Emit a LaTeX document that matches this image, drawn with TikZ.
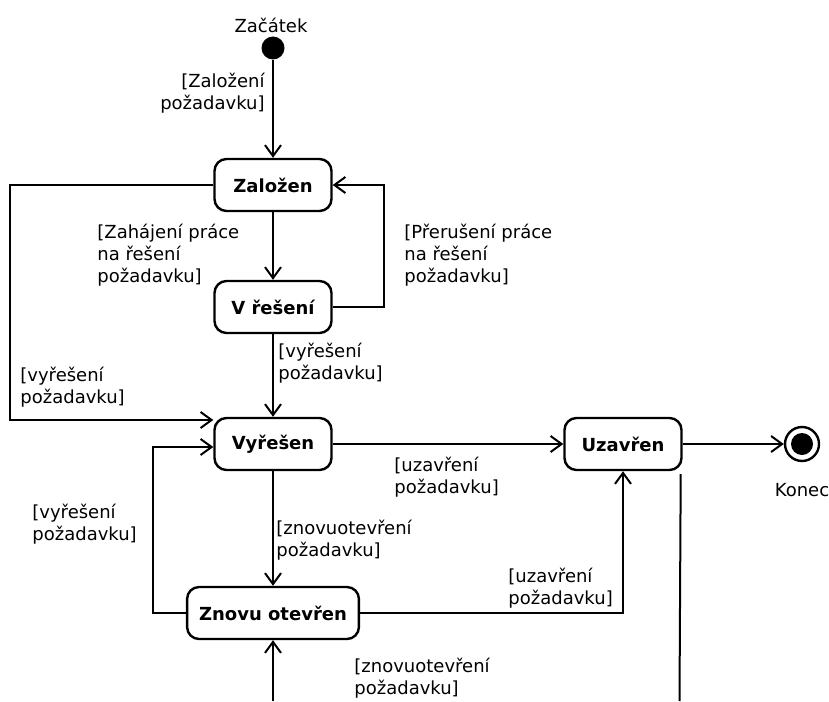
\documentclass[tikz,border=0pt]{standalone}
\usepackage{fontspec}
\setmainfont{DejaVu Sans}
\usepackage{tikz}
\usetikzlibrary{arrows.meta,calc}
\tikzset{
  stav/.style    ={rectangle,rounded corners=6pt,draw,line width=1.2pt,minimum width=58.5pt,minimum height=26pt,inner xsep=6pt,font=\bfseries\fontsize{9}{11}\selectfont},
  pocatek/.style ={circle,fill=black,minimum size=11.5pt,inner sep=0pt},
  konec/.style   ={circle,draw,line width=1.2pt,minimum size=17pt,inner sep=0pt,
                   path picture={\fill (path picture bounding box.center) circle (5.5pt);}},
  prechod/.style ={line width=1pt,-{Straight Barb[length=5.5pt,width=8pt]}},
  hrana/.style   ={line width=1pt},
  podminka/.style={align=left,inner sep=0pt,font=\fontsize{9}{11}\selectfont},
  popis/.style   ={inner sep=0pt,font=\fontsize{9}{11}\selectfont},
}

\begin{document}
\begin{tikzpicture}[x=0.5pt,y=-0.5pt]
  \useasboundingbox (0,0) rectangle (829,701);
  % stavy
  \node[pocatek] (start) at (273,48) {};
  \node[popis] (startlbl) at (271,25) {Začátek};
  \node[stav] (zal)  at (273,185) {Založen};
  \node[stav] (vres) at (273,307) {V řešení};
  \node[stav] (vyr)  at (273,444) {Vyřešen};
  \node[stav] (uza)  at (623,444) {Uzavřen};
  \node[stav] (znov) at (273,613) {Znovu otevřen};
  \node[konec] (end) at (802,444) {};
  \node[popis] (endlbl) at (802,490) {Konec};
  \coordinate (dolniL) at (273,701);
  \coordinate (dolniP) at (679.5,701);

  % prechody
  \draw[prechod] (start) -- (zal);
  \draw[prechod] (zal) -- (vres);
  \draw[prechod] (vres.east) -- ++(51,0) |- (zal.east);
  \draw[prechod] (zal.west) -- ++(-203,0) |- ($(vyr.west)+(0,-24)$);
  \draw[prechod] (vres) -- (vyr);
  \draw[prechod] (vyr) -- (uza);
  \draw[prechod] (uza) -- (end);
  \draw[prechod] (vyr) -- (znov);
  \draw[prechod] (znov.west) -- ++(-33,0) |- ($(vyr.west)+(0,3)$);
  \draw[prechod] (znov.east) -| (uza.south);
  \draw[prechod] (dolniL) -- (znov.south);
  \draw[hrana] (uza.south east) ++(-2,3) -- (dolniP);

  % podminky
  \node[podminka,align=right,anchor=east] (p1) at (265,93) {[Založení\\požadavku]};
  \node[podminka,anchor=west] (p2) at (97,255)  {[Zahájení práce\\na řešení\\požadavku]};
  \node[podminka,anchor=west] (p3) at (404,255) {[Přerušení práce\\na řešení\\požadavku]};
  \node[podminka,anchor=west] (p4) at (20,387)  {[vyřešení\\požadavku]};
  \node[podminka,anchor=west] (p5) at (278,363) {[vyřešení\\požadavku]};
  \node[podminka,anchor=west] (p6) at (394,477) {[uzavření\\požadavku]};
  \node[podminka,anchor=west] (p7) at (32,524)  {[vyřešení\\požadavku]};
  \node[podminka,anchor=west] (p8) at (276,540) {[znovuotevření\\požadavku]};
  \node[podminka,anchor=west] (p9) at (508,588) {[uzavření\\požadavku]};
  \node[podminka,anchor=west] (p10) at (354,678) {[znovuotevření\\požadavku]};
\end{tikzpicture}
\end{document}
